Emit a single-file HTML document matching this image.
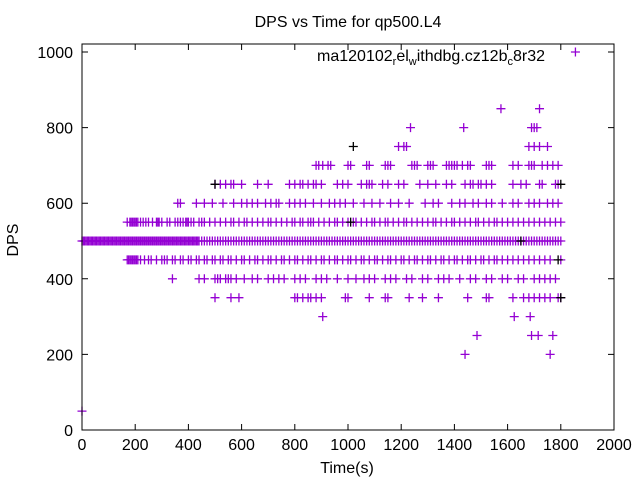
<!DOCTYPE html>
<html><head><meta charset="utf-8"><style>
body{margin:0;background:#fff}
svg{display:block;font-family:"Liberation Sans",sans-serif}
</style></head><body>
<svg id="chart" width="640" height="480">
<rect x="0" y="0" width="640" height="480" fill="#fff"/>
<text x="348" y="27" font-size="16" text-anchor="middle">DPS vs Time for qp500.L4</text>
<text x="347" y="473" font-size="16" text-anchor="middle">Time(s)</text>
<text transform="translate(18,240) rotate(-90)" font-size="16" text-anchor="middle">DPS</text>
<text x="545" y="61" font-size="16" text-anchor="end">ma120102<tspan font-size="11" dy="4">r</tspan><tspan dy="-4">el</tspan><tspan font-size="11" dy="4">w</tspan><tspan dy="-4">ithdbg.cz12b</tspan><tspan font-size="11" dy="4">c</tspan><tspan dy="-4">8r32</tspan></text>
<g id="axes"></g>
<g id="marks"></g>
<rect x="82" y="44" width="532" height="386" fill="none" stroke="#000" stroke-width="1"/>
</svg>
<script>
const xTicks=[0,200,400,600,800,1000,1200,1400,1600,1800,2000];
const yTicks=[0,200,400,600,800,1000];
const levels=[1000,850,800,750,700,650,600,550,500,450,400,350,300,250,200,50];
const t1000=[1855];
const t850=[1575,1720];
const t800=[1235,1435,1690,1700,1710];
const t750=[1190,1210,1220,1680,1700,1720,1750];
const t700=[880,890,905,925,935,1000,1010,1070,1080,1140,1150,1160,1240,1250,1260,1300,1310,1320,1370,1380,1390,1400,1410,1430,1450,1460,1520,1530,1540,1620,1640,1680,1690,1700,1730,1750,1770,1790];
const t650=[500,520,540,560,570,600,660,700,780,800,820,830,850,870,880,900,960,980,1000,1050,1070,1080,1090,1130,1150,1190,1210,1270,1300,1330,1370,1390,1440,1460,1470,1490,1500,1520,1540,1620,1650,1670,1720,1730,1780,1790];
const t600=[360,370,430,460,490,530,570,600,620,640,660,690,710,730,740,780,800,820,840,870,900,930,950,970,990,1020,1060,1090,1120,1160,1190,1230,1290,1320,1340,1390,1420,1440,1470,1490,1520,1540,1580,1620,1640,1680,1700,1720,1750,1770,1790];
const t550=[170,180,185,190,195,200,205,210,220,230,240,250,265,280,285,290,300,320,330,350,360,370,380,390,395,400,410,420,440,450,460,480,500,520,540,560,570,590,610,620,640,660,680,700,710,730,750,770,790,800,820,830,850,860,870,890,910,930,950,960,980,1000,1020,1030,1050,1070,1090,1100,1120,1140,1150,1170,1190,1210,1220,1240,1260,1280,1300,1320,1330,1350,1370,1390,1400,1420,1440,1460,1480,1490,1510,1530,1550,1560,1580,1600,1620,1640,1660,1680,1700,1720,1740,1760,1780,1800];
const t500=[0,5,10,15,20,25,30,35,40,45,50,55,60,65,70,75,80,85,90,95,100,105,110,115,120,125,130,135,140,145,150,155,160,165,170,175,180,185,190,195,200,205,210,215,220,225,230,235,240,245,250,255,260,265,270,275,280,285,290,295,300,305,310,315,320,325,330,335,340,345,350,355,360,365,370,375,380,385,390,395,400,405,410,415,420,425,430,435,440,450,460,470,480,490,500,510,520,530,540,550,560,570,580,590,600,610,620,630,640,650,660,670,680,690,700,710,720,730,740,750,760,770,780,790,800,810,820,830,840,850,860,870,880,890,900,910,920,930,940,950,960,970,980,990,1000,1010,1020,1030,1040,1050,1060,1070,1080,1090,1100,1110,1120,1130,1140,1150,1160,1170,1180,1190,1200,1210,1220,1230,1240,1250,1260,1270,1280,1290,1300,1310,1320,1330,1340,1350,1360,1370,1380,1390,1400,1410,1420,1430,1440,1450,1460,1470,1480,1490,1500,1510,1520,1530,1540,1550,1560,1570,1580,1590,1600,1610,1620,1630,1640,1650,1660,1670,1680,1690,1700,1710,1720,1730,1740,1750,1760,1770,1780,1790,1800];
const t450=[170,175,180,185,190,195,200,205,210,220,235,250,260,280,300,310,320,340,350,370,380,400,410,430,440,460,470,490,500,520,530,550,560,580,600,610,630,650,660,680,700,710,730,750,760,780,800,810,830,850,860,880,900,910,930,950,960,980,1000,1010,1030,1050,1060,1080,1100,1110,1130,1150,1160,1180,1200,1210,1230,1250,1260,1280,1300,1310,1330,1350,1360,1380,1400,1410,1430,1450,1460,1480,1500,1510,1530,1550,1560,1580,1600,1620,1640,1660,1680,1700,1720,1740,1760,1800];
const t400=[340,440,460,500,510,520,540,550,560,580,610,640,660,700,720,740,760,800,820,840,880,900,920,960,1000,1030,1060,1080,1100,1140,1160,1180,1220,1240,1280,1300,1340,1360,1380,1420,1460,1480,1520,1540,1580,1600,1640,1660,1700,1720,1740,1760,1780];
const t350=[500,560,590,800,810,830,850,860,880,900,990,1000,1080,1140,1150,1230,1280,1340,1450,1520,1530,1620,1660,1680,1700,1720,1740,1760,1790,1800];
const t300=[905,1625,1685];
const t250=[1485,1690,1715,1770];
const t200=[1440,1760];
const t50=[0];
const blackLevels=[750,650,650,550,500,450,350];
const blackTimes=[1020,500,1800,1010,1650,1790,1800];
const seriesTimes=[t1000,t850,t800,t750,t700,t650,t600,t550,t500,t450,t400,t350,t300,t250,t200,t50];

const X0=82,X1=614,Y0=430,Y1=52;
function xs(v){return X0+(v/2000)*(X1-X0);}
function ys(v){return Y0-(v/1000)*(Y0-Y1);}
const NS="http://www.w3.org/2000/svg";
const ax=document.getElementById('axes'),mk=document.getElementById('marks');
function el(t,a,p){const e=document.createElementNS(NS,t);for(const k in a)e.setAttribute(k,a[k]);p.appendChild(e);return e;}
xTicks.forEach(v=>{
  const x=xs(v);
  const l=el('path',{d:`M${x},430v-6M${x},44v6`,stroke:'#000'},ax);
  
  
  const t=el('text',{x:x,y:450,'font-size':16,'text-anchor':'middle'},ax);t.textContent=v;
  
  
});
yTicks.forEach(v=>{
  const y=ys(v);
  const l=el('path',{d:`M82,${y}h6M614,${y}h-6`,stroke:'#000'},ax);
  
  
  const t=el('text',{x:73,y:y+6,'font-size':16,'text-anchor':'end'},ax);t.textContent=v;
  
  
});
function plus(t,v,c){
  const x=xs(t),y=ys(v);
  const p=el('path',{d:`M${x-4.5},${y}h9M${x},${y-4.5}v9`,stroke:c,'stroke-width':1.3},mk);
  
  
}
levels.forEach((lv,i)=>seriesTimes[i].forEach(t=>plus(t,lv,'#9400d3')));
blackTimes.forEach((t,i)=>plus(t,blackLevels[i],'#000'));
</script>
</body></html>
